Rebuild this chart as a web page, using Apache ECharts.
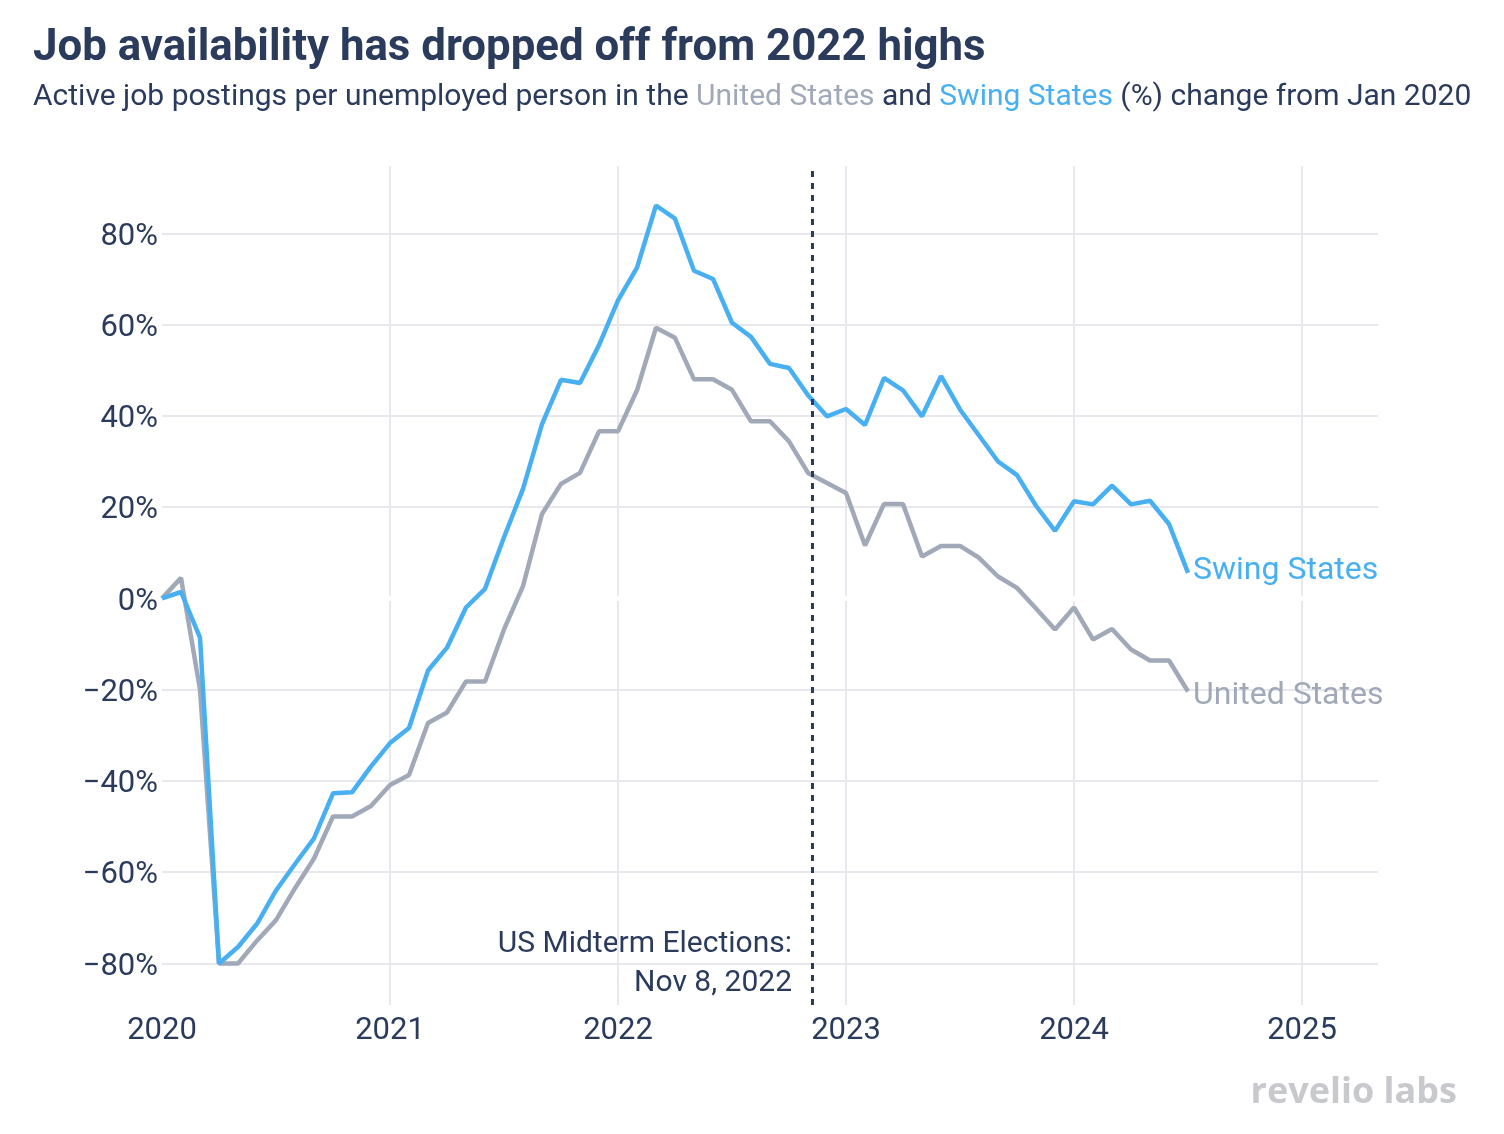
<!DOCTYPE html>
<html>
<head>
<meta charset="utf-8">
<script src="https://cdn.jsdelivr.net/npm/echarts@6/dist/echarts.min.js"></script>
<style>
html,body{margin:0;padding:0;background:#fff;}
#chart{width:1504px;height:1134px;}
</style>
</head>
<body>
<div id="chart"></div>
<script>
// Month index 0 = Jan 2020
const yearLabels = ['2020', '2021', '2022', '2023', '2024', '2025'];
const unitedStates = [0, 4.5, -20, -80, -80, -75, -70.5, -63.5, -57, -47.8, -47.8, -45.5,
  -40.9, -38.7, -27.3, -25, -18.2, -18.2, -6.8, 2.7, 18.5, 25.1, 27.5, 36.6,
  36.6, 45.6, 59.3, 57.1, 48, 48, 45.7, 38.8, 38.8, 34.4, 27.5, 25.3,
  23.1, 11.6, 20.7, 20.7, 9.2, 11.5, 11.5, 8.9, 4.8, 2.3, -2.2, -6.8,
  -2, -9, -6.7, -11.2, -13.6, -13.6, -20.4];
const swingStates = [0, 1.4, -8.6, -80, -76.4, -71.3, -64, -58.2, -52.6, -42.7, -42.5, -36.8,
  -31.7, -28.4, -15.8, -10.8, -2, 2.1, 13.4, 24, 38.2, 47.9, 47.2, 55.5,
  65.3, 72.5, 86.1, 83.2, 71.8, 70, 60.4, 57.3, 51.4, 50.5, 44.5, 39.9,
  41.5, 38, 48.3, 45.6, 39.9, 48.7, 41.4, 35.7, 30, 27, 20.3, 14.8,
  21.3, 20.6, 24.7, 20.6, 21.4, 16.3, 5.6];
const electionMonth = 34 + 7 / 30; // Nov 8, 2022

const NAVY = '#2b3b5c';
const BLUE = '#48b0f2';
const GRAY = '#a1a9b8';
const FONT = 'Roboto';

const toPairs = arr => arr.map((v, i) => [i, v]);

const chart = echarts.init(document.getElementById('chart'));
chart.setOption({
  animation: false,
  backgroundColor: '#fff',
  textStyle: { fontFamily: FONT },
  grid: { left: 162, right: 126, top: 166, bottom: 129, containLabel: false },
  xAxis: {
    type: 'value', min: 0, max: 64, interval: 12,
    axisLine: { show: false }, axisTick: { show: false },
    axisLabel: {
      color: NAVY, fontSize: 31, fontFamily: FONT, margin: 11,
      showMinLabel: true, showMaxLabel: false,
      formatter: v => (v % 12 === 0 ? yearLabels[v / 12] : '')
    },
    splitLine: { show: true, showMinLine: false, showMaxLine: false, lineStyle: { color: '#e7e7ed', width: 2 } }
  },
  yAxis: {
    type: 'value', min: -89.1, max: 94.75, splitNumber: 9,
    axisLine: { show: false }, axisTick: { show: false },
    axisLabel: {
      color: NAVY, fontSize: 31, fontFamily: FONT, margin: 4,
      showMinLabel: false, showMaxLabel: false,
      formatter: v => '{a|' + (v < 0 ? '\u2212' + Math.abs(v) : v) + '%}',
      rich: { a: { color: NAVY, fontSize: 31, fontFamily: FONT, padding: [7, 0, 0, 0] } }
    },
    splitLine: { show: true, showMinLine: false, showMaxLine: false, lineStyle: { color: '#e7e7ed', width: 2 } }
  },
  series: [
    {
      type: 'line', data: [], z: 1, silent: true,
      markLine: {
        silent: true, symbol: 'none', animation: false, z: 1,
        label: { show: false },
        lineStyle: { color: '#ffffff', width: 5, type: 'solid' },
        data: [{ yAxis: 0 }]
      }
    },
    {
      name: 'United States', type: 'line', data: toPairs(unitedStates), z: 3,
      showSymbol: false, symbol: 'none',
      lineStyle: { color: GRAY, width: 4.5 }, itemStyle: { color: GRAY },
      endLabel: { show: true, formatter: '{a}', color: GRAY, fontSize: 32, fontFamily: FONT, distance: 5, offset: [0, 5] }
    },
    {
      name: 'Swing States', type: 'line', data: toPairs(swingStates), z: 4,
      showSymbol: false, symbol: 'none',
      lineStyle: { color: BLUE, width: 4.5 }, itemStyle: { color: BLUE },
      endLabel: { show: true, formatter: '{a}', color: BLUE, fontSize: 32, fontFamily: FONT, distance: 5, offset: [0, -2] },
      markLine: {
        silent: true, symbol: 'none', animation: false,
        label: { show: false },
        lineStyle: { color: NAVY, width: 3, type: [6, 6] },
        data: [{ xAxis: electionMonth }]
      }
    }
  ],
  graphic: [
    {
      type: 'text', x: 33, y: 27,
      style: { text: 'Job availability has dropped off from 2022 highs', fill: NAVY, font: 'bold 43.8px Roboto' }
    },
    {
      type: 'text', x: 33, y: 82,
      style: {
        text: 'Active job postings per unemployed person in the {g|United States} and {b|Swing States} (%) change from Jan 2020',
        fill: NAVY, font: '30px Roboto',
        rich: {
          g: { fill: GRAY, font: '30px Roboto' },
          b: { fill: BLUE, font: '30px Roboto' }
        }
      }
    },
    {
      type: 'text', x: 792, y: 925,
      style: { text: 'US Midterm Elections:\nNov 8, 2022', fill: NAVY, font: '30px Roboto', align: 'right', lineHeight: 39 }
    },
    {
      type: 'text', x: 1457, y: 1075,
      style: { text: 'revelio labs', fill: '#c8c9cd', font: 'bold 36px "Open Sans"', align: 'right' }
    }
  ]
});
</script>
</body>
</html>
